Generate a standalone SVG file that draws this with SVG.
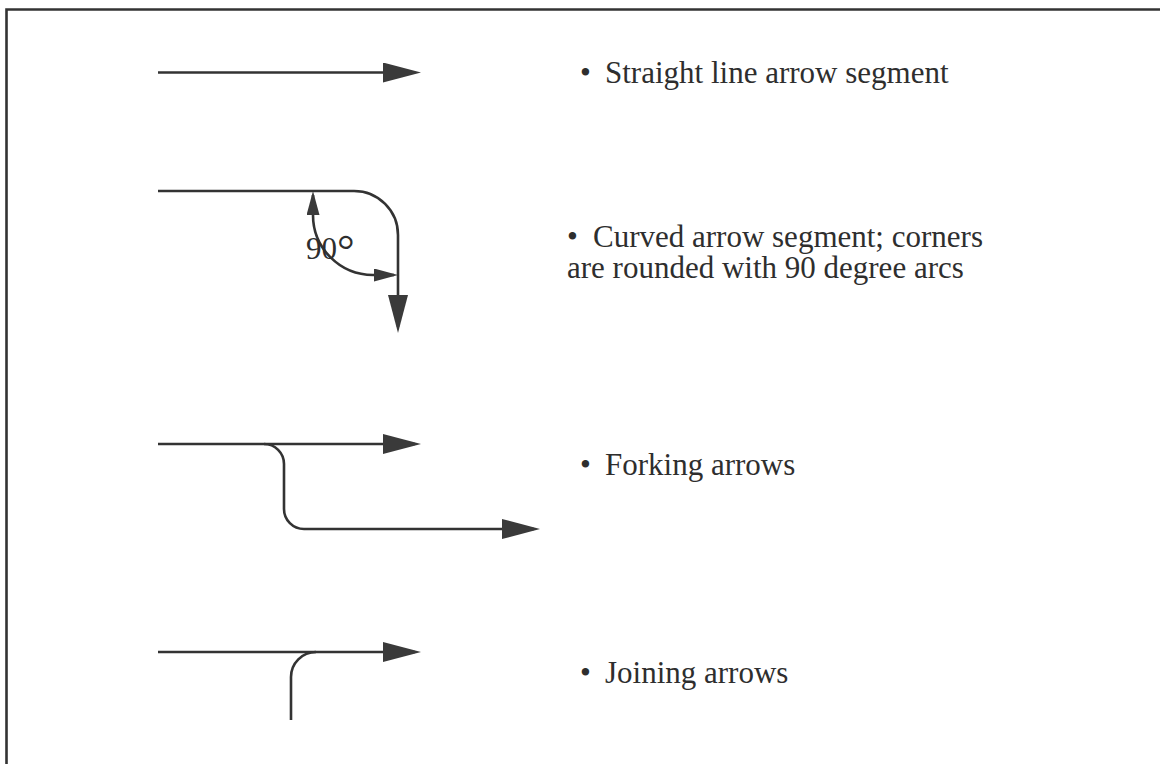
<svg xmlns="http://www.w3.org/2000/svg" width="1160" height="764" viewBox="0 0 1160 764">
<style>
.ln{fill:none;stroke:#333;stroke-width:2.6;stroke-linecap:butt}
.lbl{font-family:"Liberation Serif","Times New Roman",serif;font-size:31px;fill:#2e2e2e}
.frame{fill:none;stroke:#333;stroke-width:2.6}
</style>
<defs>
<marker id="big" markerUnits="userSpaceOnUse" markerWidth="40" markerHeight="22" refX="32" refY="10" orient="auto">
<path d="M0,0 L38,10 L0,20 Z" fill="#3a3a3a"/>
</marker>
<marker id="small" markerUnits="userSpaceOnUse" markerWidth="26" markerHeight="14" refX="20" refY="6.5" orient="auto-start-reverse">
<path d="M0,0 L24,6.5 L0,13 Z" fill="#3a3a3a"/>
</marker>
</defs>
<rect x="0" y="0" width="1160" height="764" fill="#fff"/>
<path class="frame" d="M6.5,764 L6.5,9.5 L1160,9.5"/>
<g id="connectors">
<path class="ln" d="M158,72.5 L415,72.5" marker-end="url(#big)"/>
<path class="ln" d="M158,191 L354,191 A44,44 0 0 1 398,235 L398,327" marker-end="url(#big)"/>
<path class="ln" d="M313,195 L313,215 A60,60 0 0 0 373,275 L394,275" marker-start="url(#small)" marker-end="url(#small)"/>
<path class="ln" d="M158,444 L415,444" marker-end="url(#big)"/>
<path class="ln" d="M264,444 A20,20 0 0 1 284,464 L284,509 A20,20 0 0 0 304,529 L534,529" marker-end="url(#big)"/>
<path class="ln" d="M158,652 L415,652" marker-end="url(#big)"/>
<path class="ln" d="M291,720 L291,677 A25,25 0 0 1 316,652"/>
</g>
<g id="angle-label">
<text class="lbl" x="306" y="259" font-size="32">90<tspan font-size="44" dy="6">°</tspan></text>
</g>
<g id="item-straight">
<text class="lbl" x="580" y="83">•<tspan x="605">Straight line arrow segment</tspan></text>
</g>
<g id="item-curved">
<text class="lbl" x="567" y="247">•<tspan x="593">Curved arrow segment; corners</tspan><tspan x="567" y="278">are rounded with 90 degree arcs</tspan></text>
</g>
<g id="item-forking">
<text class="lbl" x="580" y="475">•<tspan x="605">Forking arrows</tspan></text>
</g>
<g id="item-joining">
<text class="lbl" x="580" y="683">•<tspan x="605">Joining arrows</tspan></text>
</g>
</svg>
